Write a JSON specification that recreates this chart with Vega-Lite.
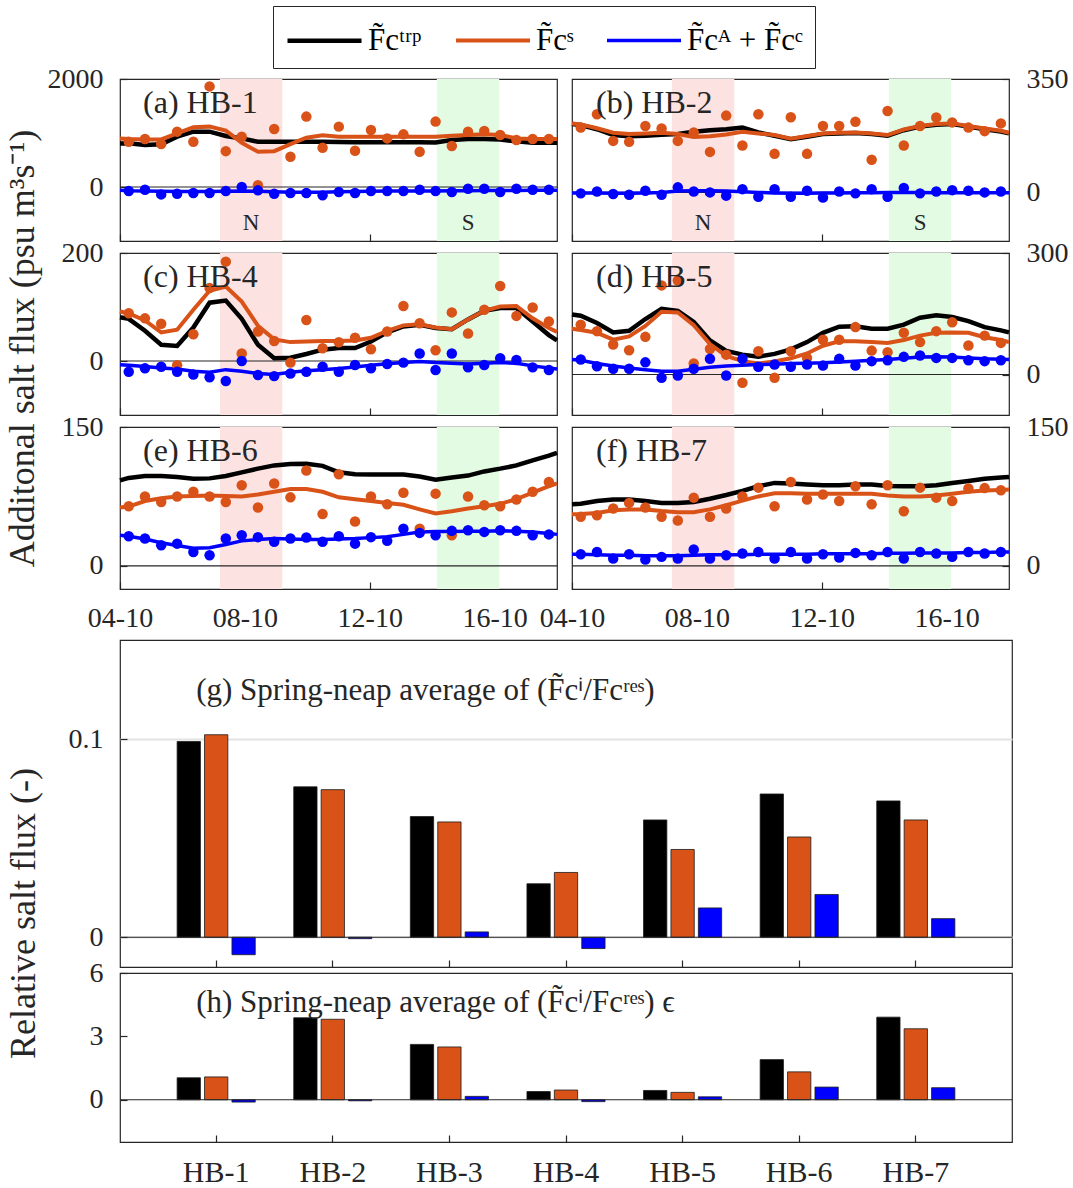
{
"$schema": "https://vega.github.io/schema/vega-lite/v6.json",
"background": "white",
"padding": {"left": 5, "top": 5, "right": 4, "bottom": 2},
"config": {
 "font": "Liberation Serif",
 "view": {"stroke": "#262626", "strokeWidth": 1.2},
 "axis": {"labelFont": "Liberation Serif", "labelFontSize": 28, "labelColor": "#262626", "tickColor": "#262626", "tickSize": -7, "tickWidth": 1.2, "domain": false, "grid": false},
 "axisX": {"labelPadding": 22, "labelFlush": false},
 "axisY": {"labelPadding": 24},
 "title": {"font": "Liberation Serif", "fontSize": 36, "fontWeight": "normal", "color": "#262626"},
 "text": {"font": "Liberation Serif", "color": "#262626"},
 "concat": {"spacing": 0}
},
"datasets": {
 "dots": [
  {"p":"a","t":0.28,"S":838,"AC":-75},{"p":"a","t":0.80,"S":888,"AC":-50},{"p":"a","t":1.32,"S":795,"AC":-137},{"p":"a","t":1.83,"S":1025,"AC":-124},{"p":"a","t":2.35,"S":838,"AC":-112},{"p":"a","t":2.87,"S":1863,"AC":-112},{"p":"a","t":3.39,"S":664,"AC":-75},{"p":"a","t":3.90,"S":931,"AC":0},{"p":"a","t":4.42,"S":31,"AC":-62},{"p":"a","t":4.94,"S":1074,"AC":-124},{"p":"a","t":5.46,"S":559,"AC":-112},{"p":"a","t":5.97,"S":1304,"AC":-112},{"p":"a","t":6.49,"S":727,"AC":-155},{"p":"a","t":7.01,"S":1118,"AC":-93},{"p":"a","t":7.53,"S":671,"AC":-112},{"p":"a","t":8.04,"S":1056,"AC":-75},{"p":"a","t":8.56,"S":900,"AC":-75},{"p":"a","t":9.08,"S":975,"AC":-75},{"p":"a","t":9.60,"S":652,"AC":-50},{"p":"a","t":10.11,"S":1211,"AC":-75},{"p":"a","t":10.63,"S":758,"AC":-93},{"p":"a","t":11.15,"S":1025,"AC":-31},{"p":"a","t":11.67,"S":1037,"AC":-31},{"p":"a","t":12.18,"S":963,"AC":-93},{"p":"a","t":12.70,"S":869,"AC":-31},{"p":"a","t":13.22,"S":888,"AC":-50},{"p":"a","t":13.74,"S":888,"AC":-50},
  {"p":"b","t":0.28,"S":200,"AC":-3},{"p":"b","t":0.80,"S":241,"AC":3},{"p":"b","t":1.32,"S":159,"AC":-5},{"p":"b","t":1.83,"S":156,"AC":-7},{"p":"b","t":2.35,"S":205,"AC":5},{"p":"b","t":2.87,"S":197,"AC":-7},{"p":"b","t":3.39,"S":159,"AC":15.6},{"p":"b","t":3.90,"S":185,"AC":3},{"p":"b","t":4.42,"S":125,"AC":0},{"p":"b","t":4.94,"S":237,"AC":-10},{"p":"b","t":5.46,"S":145,"AC":10},{"p":"b","t":5.97,"S":241,"AC":-13.5},{"p":"b","t":6.49,"S":119,"AC":10},{"p":"b","t":7.01,"S":232,"AC":-13.5},{"p":"b","t":7.53,"S":119,"AC":5},{"p":"b","t":8.04,"S":205,"AC":-15.6},{"p":"b","t":8.56,"S":205,"AC":3},{"p":"b","t":9.08,"S":218,"AC":-3},{"p":"b","t":9.60,"S":101,"AC":10},{"p":"b","t":10.11,"S":251,"AC":-13.5},{"p":"b","t":10.63,"S":145,"AC":13.5},{"p":"b","t":11.15,"S":205,"AC":-3},{"p":"b","t":11.67,"S":231,"AC":3},{"p":"b","t":12.18,"S":216,"AC":7},{"p":"b","t":12.70,"S":200,"AC":5},{"p":"b","t":13.22,"S":189,"AC":0},{"p":"b","t":13.74,"S":213,"AC":3},
  {"p":"c","t":0.28,"S":88.5,"AC":-20},{"p":"c","t":0.80,"S":79,"AC":-13.6},{"p":"c","t":1.32,"S":69,"AC":-10.5},{"p":"c","t":1.83,"S":-8,"AC":-20},{"p":"c","t":2.35,"S":49.5,"AC":-25},{"p":"c","t":2.87,"S":135,"AC":-30},{"p":"c","t":3.39,"S":184,"AC":-37},{"p":"c","t":3.90,"S":14,"AC":0},{"p":"c","t":4.42,"S":54.5,"AC":-26},{"p":"c","t":4.94,"S":37,"AC":-28},{"p":"c","t":5.46,"S":-3,"AC":-23},{"p":"c","t":5.97,"S":76,"AC":-20},{"p":"c","t":6.49,"S":23.5,"AC":-10.5},{"p":"c","t":7.01,"S":34.7,"AC":-20},{"p":"c","t":7.53,"S":43,"AC":-7.4},{"p":"c","t":8.04,"S":21.7,"AC":-13.6},{"p":"c","t":8.56,"S":54.5,"AC":-5.6},{"p":"c","t":9.08,"S":102,"AC":-3},{"p":"c","t":9.60,"S":70,"AC":14},{"p":"c","t":10.11,"S":20,"AC":-16.7},{"p":"c","t":10.63,"S":90,"AC":14},{"p":"c","t":11.15,"S":51,"AC":-11.8},{"p":"c","t":11.67,"S":95,"AC":-7.4},{"p":"c","t":12.18,"S":139,"AC":5},{"p":"c","t":12.70,"S":83.5,"AC":2},{"p":"c","t":13.22,"S":99,"AC":-11.8},{"p":"c","t":13.74,"S":73,"AC":-16.7},
  {"p":"d","t":0.28,"S":123,"AC":37},{"p":"d","t":0.80,"S":107,"AC":20.5},{"p":"d","t":1.32,"S":74,"AC":14},{"p":"d","t":1.83,"S":60,"AC":14},{"p":"d","t":2.35,"S":93,"AC":30},{"p":"d","t":2.87,"S":220,"AC":-8},{"p":"d","t":3.39,"S":232,"AC":-2.5},{"p":"d","t":3.90,"S":27,"AC":14},{"p":"d","t":4.42,"S":63,"AC":38.6},{"p":"d","t":4.94,"S":49,"AC":-2.5},{"p":"d","t":5.46,"S":-20.5,"AC":38.6},{"p":"d","t":5.97,"S":57.5,"AC":19},{"p":"d","t":6.49,"S":-8,"AC":24.7},{"p":"d","t":7.01,"S":57.5,"AC":19},{"p":"d","t":7.53,"S":41,"AC":24.7},{"p":"d","t":8.04,"S":86,"AC":22},{"p":"d","t":8.56,"S":86,"AC":38.6},{"p":"d","t":9.08,"S":117,"AC":22},{"p":"d","t":9.60,"S":59,"AC":33},{"p":"d","t":10.11,"S":55,"AC":35},{"p":"d","t":10.63,"S":103,"AC":43.6},{"p":"d","t":11.15,"S":80,"AC":47},{"p":"d","t":11.67,"S":107,"AC":41},{"p":"d","t":12.18,"S":129,"AC":41},{"p":"d","t":12.70,"S":71.5,"AC":35},{"p":"d","t":13.22,"S":96,"AC":33},{"p":"d","t":13.74,"S":78,"AC":35},
  {"p":"e","t":0.28,"S":64.4,"AC":32},{"p":"e","t":0.80,"S":75,"AC":29.5},{"p":"e","t":1.32,"S":69,"AC":22.3},{"p":"e","t":1.83,"S":75,"AC":24},{"p":"e","t":2.35,"S":80,"AC":15},{"p":"e","t":2.87,"S":75,"AC":11.5},{"p":"e","t":3.39,"S":69,"AC":29.5},{"p":"e","t":3.90,"S":87,"AC":33},{"p":"e","t":4.42,"S":63,"AC":31},{"p":"e","t":4.94,"S":89,"AC":26},{"p":"e","t":5.46,"S":74,"AC":29.5},{"p":"e","t":5.97,"S":103,"AC":30.6},{"p":"e","t":6.49,"S":56,"AC":26},{"p":"e","t":7.01,"S":99,"AC":32},{"p":"e","t":7.53,"S":48,"AC":24},{"p":"e","t":8.04,"S":75,"AC":31},{"p":"e","t":8.56,"S":66.5,"AC":27},{"p":"e","t":9.08,"S":79,"AC":40},{"p":"e","t":9.60,"S":40,"AC":35.6},{"p":"e","t":10.11,"S":78,"AC":33},{"p":"e","t":10.63,"S":33,"AC":37.8},{"p":"e","t":11.15,"S":75,"AC":38.5},{"p":"e","t":11.67,"S":65.5,"AC":36.7},{"p":"e","t":12.18,"S":64.4,"AC":38.5},{"p":"e","t":12.70,"S":71.6,"AC":37.8},{"p":"e","t":13.22,"S":80,"AC":33},{"p":"e","t":13.74,"S":90.6,"AC":34},
  {"p":"f","t":0.28,"S":53,"AC":12.6},{"p":"f","t":0.80,"S":54.7,"AC":15},{"p":"f","t":1.32,"S":62,"AC":8},{"p":"f","t":1.83,"S":68,"AC":12.6},{"p":"f","t":2.35,"S":63,"AC":6.8},{"p":"f","t":2.87,"S":53,"AC":9.7},{"p":"f","t":3.39,"S":49,"AC":8},{"p":"f","t":3.90,"S":73.7,"AC":17.6},{"p":"f","t":4.42,"S":53,"AC":8},{"p":"f","t":4.94,"S":62,"AC":11.5},{"p":"f","t":5.46,"S":75,"AC":13.3},{"p":"f","t":5.97,"S":84.5,"AC":15},{"p":"f","t":6.49,"S":64.4,"AC":8},{"p":"f","t":7.01,"S":90.6,"AC":15},{"p":"f","t":7.53,"S":71.6,"AC":8},{"p":"f","t":8.04,"S":77,"AC":12.6},{"p":"f","t":8.56,"S":70,"AC":9},{"p":"f","t":9.08,"S":86,"AC":14},{"p":"f","t":9.60,"S":66.5,"AC":11.5},{"p":"f","t":10.11,"S":87,"AC":15},{"p":"f","t":10.63,"S":59,"AC":8},{"p":"f","t":11.15,"S":84.5,"AC":15},{"p":"f","t":11.67,"S":73.7,"AC":13.3},{"p":"f","t":12.18,"S":70,"AC":9.7},{"p":"f","t":12.70,"S":83.5,"AC":15},{"p":"f","t":13.22,"S":84,"AC":13.3},{"p":"f","t":13.74,"S":81.7,"AC":15}
 ],
 "lines": [
  {"p":"a","t":0,"trp":807,"S":900,"AC":-60},{"p":"a","t":0.28,"trp":810,"S":890,"AC":-70},{"p":"a","t":0.80,"trp":776,"S":880,"AC":-75},{"p":"a","t":1.32,"trp":790,"S":880,"AC":-80},{"p":"a","t":1.83,"trp":931,"S":994,"AC":-85},{"p":"a","t":2.35,"trp":1025,"S":1105,"AC":-85},{"p":"a","t":2.87,"trp":1025,"S":1118,"AC":-85},{"p":"a","t":3.39,"trp":944,"S":1043,"AC":-80},{"p":"a","t":3.90,"trp":900,"S":820,"AC":-75},{"p":"a","t":4.42,"trp":838,"S":652,"AC":-80},{"p":"a","t":4.94,"trp":838,"S":664,"AC":-90},{"p":"a","t":5.46,"trp":838,"S":795,"AC":-95},{"p":"a","t":5.97,"trp":838,"S":913,"AC":-95},{"p":"a","t":6.49,"trp":840,"S":956,"AC":-95},{"p":"a","t":7.01,"trp":835,"S":931,"AC":-90},{"p":"a","t":7.53,"trp":830,"S":931,"AC":-85},{"p":"a","t":8.04,"trp":830,"S":931,"AC":-80},{"p":"a","t":8.56,"trp":830,"S":931,"AC":-75},{"p":"a","t":9.08,"trp":830,"S":931,"AC":-75},{"p":"a","t":9.60,"trp":830,"S":931,"AC":-75},{"p":"a","t":10.11,"trp":825,"S":931,"AC":-75},{"p":"a","t":10.63,"trp":869,"S":950,"AC":-70},{"p":"a","t":11.15,"trp":888,"S":963,"AC":-70},{"p":"a","t":11.67,"trp":888,"S":975,"AC":-65},{"p":"a","t":12.18,"trp":880,"S":963,"AC":-65},{"p":"a","t":12.70,"trp":845,"S":900,"AC":-65},{"p":"a","t":13.22,"trp":820,"S":888,"AC":-60},{"p":"a","t":13.74,"trp":820,"S":888,"AC":-60},{"p":"a","t":14,"trp":820,"S":888,"AC":-60},
  {"p":"b","t":0,"trp":211,"S":213,"AC":-2},{"p":"b","t":0.28,"trp":208,"S":210,"AC":-2},{"p":"b","t":0.80,"trp":195,"S":198,"AC":-2},{"p":"b","t":1.32,"trp":177,"S":184,"AC":-3},{"p":"b","t":1.83,"trp":173,"S":180,"AC":-3},{"p":"b","t":2.35,"trp":175,"S":182,"AC":-2},{"p":"b","t":2.87,"trp":178,"S":184,"AC":0},{"p":"b","t":3.39,"trp":180,"S":180,"AC":4},{"p":"b","t":3.90,"trp":187,"S":171,"AC":5},{"p":"b","t":4.42,"trp":192,"S":173,"AC":5},{"p":"b","t":4.94,"trp":195,"S":179,"AC":4},{"p":"b","t":5.46,"trp":200,"S":187,"AC":2},{"p":"b","t":5.97,"trp":185,"S":182,"AC":0},{"p":"b","t":6.49,"trp":175,"S":177,"AC":-2},{"p":"b","t":7.01,"trp":164,"S":166,"AC":-3},{"p":"b","t":7.53,"trp":172,"S":174,"AC":-3},{"p":"b","t":8.04,"trp":180,"S":182,"AC":-2},{"p":"b","t":8.56,"trp":182,"S":184,"AC":-2},{"p":"b","t":9.08,"trp":183,"S":185,"AC":-1},{"p":"b","t":9.60,"trp":180,"S":182,"AC":-1},{"p":"b","t":10.11,"trp":175,"S":177,"AC":0},{"p":"b","t":10.63,"trp":192,"S":194,"AC":0},{"p":"b","t":11.15,"trp":203,"S":205,"AC":0},{"p":"b","t":11.67,"trp":209,"S":211,"AC":-1},{"p":"b","t":12.18,"trp":211,"S":213,"AC":-1},{"p":"b","t":12.70,"trp":203,"S":205,"AC":-1},{"p":"b","t":13.22,"trp":195,"S":197,"AC":-1},{"p":"b","t":13.74,"trp":188,"S":190,"AC":-1},{"p":"b","t":14,"trp":182,"S":184,"AC":-1},
  {"p":"c","t":0,"trp":81,"S":91.6,"AC":-7},{"p":"c","t":0.28,"trp":78,"S":88,"AC":-8},{"p":"c","t":0.80,"trp":56,"S":75,"AC":-10},{"p":"c","t":1.32,"trp":30,"S":53,"AC":-13},{"p":"c","t":1.83,"trp":28,"S":58,"AC":-15},{"p":"c","t":2.35,"trp":62,"S":95,"AC":-19},{"p":"c","t":2.87,"trp":108,"S":130,"AC":-21},{"p":"c","t":3.39,"trp":112,"S":138,"AC":-16},{"p":"c","t":3.90,"trp":78,"S":110,"AC":-19},{"p":"c","t":4.42,"trp":30,"S":65,"AC":-23},{"p":"c","t":4.94,"trp":5,"S":40,"AC":-25},{"p":"c","t":5.46,"trp":6,"S":35,"AC":-21},{"p":"c","t":5.97,"trp":13,"S":36,"AC":-18},{"p":"c","t":6.49,"trp":21,"S":37,"AC":-16},{"p":"c","t":7.01,"trp":24,"S":37,"AC":-14},{"p":"c","t":7.53,"trp":24,"S":38,"AC":-11},{"p":"c","t":8.04,"trp":36,"S":43,"AC":-8},{"p":"c","t":8.56,"trp":53,"S":56,"AC":-5},{"p":"c","t":9.08,"trp":64,"S":66,"AC":-3},{"p":"c","t":9.60,"trp":67,"S":68,"AC":-1},{"p":"c","t":10.11,"trp":61,"S":62,"AC":-3},{"p":"c","t":10.63,"trp":59,"S":59,"AC":-4},{"p":"c","t":11.15,"trp":77,"S":77,"AC":-5.5},{"p":"c","t":11.67,"trp":93,"S":93,"AC":-4},{"p":"c","t":12.18,"trp":98,"S":101,"AC":-3},{"p":"c","t":12.70,"trp":98,"S":102,"AC":-4},{"p":"c","t":13.22,"trp":73,"S":79,"AC":-9},{"p":"c","t":13.74,"trp":48,"S":61,"AC":-13},{"p":"c","t":14,"trp":38,"S":54,"AC":-15},
  {"p":"d","t":0,"trp":148,"S":113,"AC":37},{"p":"d","t":0.28,"trp":145,"S":110,"AC":35},{"p":"d","t":0.80,"trp":127,"S":103,"AC":27},{"p":"d","t":1.32,"trp":104,"S":86,"AC":21},{"p":"d","t":1.83,"trp":108,"S":94,"AC":16},{"p":"d","t":2.35,"trp":137,"S":120,"AC":12},{"p":"d","t":2.87,"trp":162,"S":155,"AC":8},{"p":"d","t":3.39,"trp":157,"S":153,"AC":8},{"p":"d","t":3.90,"trp":130,"S":122,"AC":13},{"p":"d","t":4.42,"trp":84,"S":75,"AC":18},{"p":"d","t":4.94,"trp":58,"S":46,"AC":21},{"p":"d","t":5.46,"trp":49,"S":33,"AC":23},{"p":"d","t":5.97,"trp":44,"S":27,"AC":24.5},{"p":"d","t":6.49,"trp":51,"S":32,"AC":25.5},{"p":"d","t":7.01,"trp":62,"S":40,"AC":27},{"p":"d","t":7.53,"trp":80,"S":52,"AC":28},{"p":"d","t":8.04,"trp":103,"S":71,"AC":29},{"p":"d","t":8.56,"trp":118,"S":82,"AC":31},{"p":"d","t":9.08,"trp":119,"S":82,"AC":33},{"p":"d","t":9.60,"trp":113,"S":80,"AC":35},{"p":"d","t":10.11,"trp":113,"S":78,"AC":37},{"p":"d","t":10.63,"trp":123,"S":85,"AC":40},{"p":"d","t":11.15,"trp":140,"S":96,"AC":43},{"p":"d","t":11.67,"trp":146,"S":103,"AC":44},{"p":"d","t":12.18,"trp":142,"S":104,"AC":43},{"p":"d","t":12.70,"trp":132,"S":103,"AC":41},{"p":"d","t":13.22,"trp":117,"S":92,"AC":38.6},{"p":"d","t":13.74,"trp":109,"S":85,"AC":37.5},{"p":"d","t":14,"trp":104,"S":80,"AC":37},
  {"p":"e","t":0,"trp":92.4,"S":63,"AC":33},{"p":"e","t":0.28,"trp":95,"S":64,"AC":32},{"p":"e","t":0.80,"trp":97,"S":70,"AC":29},{"p":"e","t":1.32,"trp":97,"S":73,"AC":25},{"p":"e","t":1.83,"trp":96,"S":75,"AC":22},{"p":"e","t":2.35,"trp":94,"S":75.5,"AC":19},{"p":"e","t":2.87,"trp":94.5,"S":76,"AC":19.5},{"p":"e","t":3.39,"trp":97,"S":75.5,"AC":23},{"p":"e","t":3.90,"trp":101,"S":75,"AC":27},{"p":"e","t":4.42,"trp":105,"S":77,"AC":28.5},{"p":"e","t":4.94,"trp":108.5,"S":80,"AC":29.5},{"p":"e","t":5.46,"trp":110,"S":83,"AC":29},{"p":"e","t":5.97,"trp":110.4,"S":83,"AC":28.5},{"p":"e","t":6.49,"trp":108,"S":80,"AC":28.5},{"p":"e","t":7.01,"trp":101,"S":74,"AC":29},{"p":"e","t":7.53,"trp":99,"S":72,"AC":29.5},{"p":"e","t":8.04,"trp":98.6,"S":70,"AC":30.5},{"p":"e","t":8.56,"trp":98.6,"S":68,"AC":31.5},{"p":"e","t":9.08,"trp":98.6,"S":66,"AC":34},{"p":"e","t":9.60,"trp":96.5,"S":61,"AC":36.5},{"p":"e","t":10.11,"trp":93,"S":56.5,"AC":37},{"p":"e","t":10.63,"trp":95.5,"S":59,"AC":37},{"p":"e","t":11.15,"trp":97.5,"S":62,"AC":37.5},{"p":"e","t":11.67,"trp":102,"S":64.5,"AC":37.5},{"p":"e","t":12.18,"trp":105,"S":67,"AC":37.8},{"p":"e","t":12.70,"trp":108.5,"S":72,"AC":37.5},{"p":"e","t":13.22,"trp":114,"S":79,"AC":36.5},{"p":"e","t":13.74,"trp":119,"S":86,"AC":35},{"p":"e","t":14,"trp":122,"S":89,"AC":34},
  {"p":"f","t":0,"trp":66.5,"S":55.8,"AC":12.6},{"p":"f","t":0.28,"trp":67,"S":56,"AC":12.6},{"p":"f","t":0.80,"trp":70,"S":57,"AC":12},{"p":"f","t":1.32,"trp":71.6,"S":60,"AC":11.5},{"p":"f","t":1.83,"trp":71.6,"S":61,"AC":11.5},{"p":"f","t":2.35,"trp":70,"S":61,"AC":11},{"p":"f","t":2.87,"trp":68,"S":59.3,"AC":11},{"p":"f","t":3.39,"trp":68,"S":58,"AC":11},{"p":"f","t":3.90,"trp":69,"S":58,"AC":11.5},{"p":"f","t":4.42,"trp":72.5,"S":61,"AC":12},{"p":"f","t":4.94,"trp":76.5,"S":65.5,"AC":12},{"p":"f","t":5.46,"trp":81,"S":70.5,"AC":12},{"p":"f","t":5.97,"trp":86,"S":75,"AC":12.5},{"p":"f","t":6.49,"trp":89.6,"S":78.5,"AC":12.5},{"p":"f","t":7.01,"trp":89,"S":78.5,"AC":12.5},{"p":"f","t":7.53,"trp":88,"S":78,"AC":12.5},{"p":"f","t":8.04,"trp":87,"S":78,"AC":13},{"p":"f","t":8.56,"trp":87,"S":78,"AC":13},{"p":"f","t":9.08,"trp":87.8,"S":78,"AC":13},{"p":"f","t":9.60,"trp":87.8,"S":78,"AC":13},{"p":"f","t":10.11,"trp":86.3,"S":76,"AC":13.5},{"p":"f","t":10.63,"trp":86,"S":75,"AC":13.5},{"p":"f","t":11.15,"trp":86,"S":75,"AC":14},{"p":"f","t":11.67,"trp":87,"S":76,"AC":14},{"p":"f","t":12.18,"trp":89.6,"S":78,"AC":14},{"p":"f","t":12.70,"trp":91.7,"S":80,"AC":14.5},{"p":"f","t":13.22,"trp":94,"S":81.5,"AC":14.5},{"p":"f","t":13.74,"trp":95.5,"S":82,"AC":15},{"p":"f","t":14,"trp":96,"S":82.4,"AC":15}
 ],
 "bars": [
  {"site":"HB-1","comp":"trp","g":0.0988,"h":1.04},{"site":"HB-1","comp":"S","g":0.1022,"h":1.08},{"site":"HB-1","comp":"AC","g":-0.0088,"h":-0.11},
  {"site":"HB-2","comp":"trp","g":0.0759,"h":3.88},{"site":"HB-2","comp":"S","g":0.0745,"h":3.81},{"site":"HB-2","comp":"AC","g":-0.0007,"h":-0.05},
  {"site":"HB-3","comp":"trp","g":0.0609,"h":2.62},{"site":"HB-3","comp":"S","g":0.0582,"h":2.50},{"site":"HB-3","comp":"AC","g":0.0027,"h":0.16},
  {"site":"HB-4","comp":"trp","g":0.027,"h":0.39},{"site":"HB-4","comp":"S","g":0.0327,"h":0.46},{"site":"HB-4","comp":"AC","g":-0.0057,"h":-0.09},
  {"site":"HB-5","comp":"trp","g":0.0592,"h":0.44},{"site":"HB-5","comp":"S","g":0.0443,"h":0.35},{"site":"HB-5","comp":"AC","g":0.0148,"h":0.14},
  {"site":"HB-6","comp":"trp","g":0.0723,"h":1.90},{"site":"HB-6","comp":"S","g":0.0506,"h":1.32},{"site":"HB-6","comp":"AC","g":0.0216,"h":0.60},
  {"site":"HB-7","comp":"trp","g":0.0688,"h":3.91},{"site":"HB-7","comp":"S","g":0.0592,"h":3.36},{"site":"HB-7","comp":"AC","g":0.0094,"h":0.57}
 ]
},
"spacing": 6,
"vconcat": [
 {
  "title": {"text": "Additonal salt flux (psu m³s⁻¹)", "orient": "left", "anchor": "middle", "offset": 4},
  "spacing": -5,
  "vconcat": [
   {"spacing": -5, "hconcat": [
    {"width": 437, "height": 162, "layer": [
     {"data": {"values": [{}]}, "mark": {"type": "rect", "color": "#fde2e2"}, "encoding": {"x": {"datum": 3.2, "type": "quantitative", "title": null, "scale": {"domain": [0, 14], "nice": false, "zero": false}, "axis": {"values": [0, 4, 8, 12], "labels": false}}, "x2": {"datum": 5.2}}},
     {"data": {"values": [{}]}, "mark": {"type": "rect", "color": "#e2fbe2"}, "encoding": {"x": {"datum": 10.15, "type": "quantitative", "title": null}, "x2": {"datum": 12.15}}},
     {"data": {"values": [{}]}, "mark": {"type": "rule", "color": "#262626", "strokeWidth": 1.2}, "encoding": {"y": {"datum": 0, "type": "quantitative", "title": null, "scale": {"domain": [-1000, 2000], "nice": false, "zero": false}, "axis": {"values": [0, 2000], "format": "d", "orient": "left", "minExtent": 72}}}},
     {"data": {"name": "lines"}, "transform": [{"filter": "datum.p === 'a'"}, {"fold": ["trp", "S", "AC"], "as": ["series", "v"]}], "mark": {"type": "line"}, "encoding": {"x": {"field": "t", "type": "quantitative", "title": null}, "y": {"field": "v", "type": "quantitative", "title": null}, "color": {"field": "series", "type": "nominal", "scale": {"domain": ["trp", "S", "AC"], "range": ["#000000", "#D95319", "#0000FF"]}, "legend": {"orient": "none", "legendX": 153, "legendY": -73, "direction": "horizontal", "title": null, "symbolType": "M-1,0H2.7", "symbolSize": 1600, "symbolStrokeWidth": 5, "labelFontSize": 31, "labelFont": "Liberation Serif", "labelColor": "#000000", "labelOffset": 38, "strokeColor": "#262626", "padding": 12, "columnPadding": 26, "labelExpr": "datum.label == 'trp' ? 'F̃cᵗʳᵖ' : datum.label == 'S' ? 'F̃cˢ' : 'F̃cᴬ + F̃cᶜ'"}}, "strokeWidth": {"field": "series", "type": "nominal", "scale": {"domain": ["trp", "S", "AC"], "range": [4.5, 3.5, 3.5]}, "legend": null}}},
     {"data": {"name": "dots"}, "transform": [{"filter": "datum.p === 'a'"}, {"fold": ["S", "AC"], "as": ["series", "v"]}], "mark": {"type": "circle", "size": 110, "opacity": 1}, "encoding": {"x": {"field": "t", "type": "quantitative", "title": null}, "y": {"field": "v", "type": "quantitative", "title": null}, "color": {"field": "series", "type": "nominal", "legend": null}}},
     {"data": {"values": [{}]}, "mark": {"type": "text", "text": "(a) HB-1", "align": "left", "baseline": "middle", "fontSize": 32}, "encoding": {"x": {"datum": 0.74}, "y": {"datum": 1556}}},
     {"data": {"values": [{}]}, "mark": {"type": "text", "text": "N", "align": "center", "baseline": "middle", "fontSize": 23}, "encoding": {"x": {"datum": 4.2}, "y": {"datum": -667}}},
     {"data": {"values": [{}]}, "mark": {"type": "text", "text": "S", "align": "center", "baseline": "middle", "fontSize": 23}, "encoding": {"x": {"datum": 11.15}, "y": {"datum": -667}}}
    ]},
    {"width": 437, "height": 162, "layer": [
     {"data": {"values": [{}]}, "mark": {"type": "rect", "color": "#fde2e2"}, "encoding": {"x": {"datum": 3.2, "type": "quantitative", "title": null, "scale": {"domain": [0, 14], "nice": false, "zero": false}, "axis": {"values": [0, 4, 8, 12], "labels": false}}, "x2": {"datum": 5.2}}},
     {"data": {"values": [{}]}, "mark": {"type": "rect", "color": "#e2fbe2"}, "encoding": {"x": {"datum": 10.15, "type": "quantitative", "title": null}, "x2": {"datum": 12.15}}},
     {"data": {"values": [{}]}, "mark": {"type": "rule", "color": "#262626", "strokeWidth": 1.2}, "encoding": {"y": {"datum": 0, "type": "quantitative", "title": null, "scale": {"domain": [-150, 350], "nice": false, "zero": false}, "axis": {"values": [0, 350], "orient": "right"}}}},
     {"data": {"name": "lines"}, "transform": [{"filter": "datum.p === 'b'"}, {"fold": ["trp", "S", "AC"], "as": ["series", "v"]}], "mark": {"type": "line"}, "encoding": {"x": {"field": "t", "type": "quantitative", "title": null}, "y": {"field": "v", "type": "quantitative", "title": null}, "color": {"field": "series", "type": "nominal", "legend": null}, "strokeWidth": {"field": "series", "type": "nominal", "legend": null}}},
     {"data": {"name": "dots"}, "transform": [{"filter": "datum.p === 'b'"}, {"fold": ["S", "AC"], "as": ["series", "v"]}], "mark": {"type": "circle", "size": 110, "opacity": 1}, "encoding": {"x": {"field": "t", "type": "quantitative", "title": null}, "y": {"field": "v", "type": "quantitative", "title": null}, "color": {"field": "series", "type": "nominal", "legend": null}}},
     {"data": {"values": [{}]}, "mark": {"type": "text", "text": "(b) HB-2", "align": "left", "baseline": "middle", "fontSize": 32}, "encoding": {"x": {"datum": 0.77}, "y": {"datum": 276}}},
     {"data": {"values": [{}]}, "mark": {"type": "text", "text": "N", "align": "center", "baseline": "middle", "fontSize": 23}, "encoding": {"x": {"datum": 4.2}, "y": {"datum": -94}}},
     {"data": {"values": [{}]}, "mark": {"type": "text", "text": "S", "align": "center", "baseline": "middle", "fontSize": 23}, "encoding": {"x": {"datum": 11.15}, "y": {"datum": -94}}}
    ]}
   ]},
   {"spacing": -5, "hconcat": [
    {"width": 437, "height": 162, "layer": [
     {"data": {"values": [{}]}, "mark": {"type": "rect", "color": "#fde2e2"}, "encoding": {"x": {"datum": 3.2, "type": "quantitative", "title": null, "scale": {"domain": [0, 14], "nice": false, "zero": false}, "axis": {"values": [0, 4, 8, 12], "labels": false}}, "x2": {"datum": 5.2}}},
     {"data": {"values": [{}]}, "mark": {"type": "rect", "color": "#e2fbe2"}, "encoding": {"x": {"datum": 10.15, "type": "quantitative", "title": null}, "x2": {"datum": 12.15}}},
     {"data": {"values": [{}]}, "mark": {"type": "rule", "color": "#262626", "strokeWidth": 1.2}, "encoding": {"y": {"datum": 0, "type": "quantitative", "title": null, "scale": {"domain": [-100, 200], "nice": false, "zero": false}, "axis": {"values": [0, 200], "orient": "left", "minExtent": 72}}}},
     {"data": {"name": "lines"}, "transform": [{"filter": "datum.p === 'c'"}, {"fold": ["trp", "S", "AC"], "as": ["series", "v"]}], "mark": {"type": "line"}, "encoding": {"x": {"field": "t", "type": "quantitative", "title": null}, "y": {"field": "v", "type": "quantitative", "title": null}, "color": {"field": "series", "type": "nominal", "legend": null}, "strokeWidth": {"field": "series", "type": "nominal", "legend": null}}},
     {"data": {"name": "dots"}, "transform": [{"filter": "datum.p === 'c'"}, {"fold": ["S", "AC"], "as": ["series", "v"]}], "mark": {"type": "circle", "size": 110, "opacity": 1}, "encoding": {"x": {"field": "t", "type": "quantitative", "title": null}, "y": {"field": "v", "type": "quantitative", "title": null}, "color": {"field": "series", "type": "nominal", "legend": null}}},
     {"data": {"values": [{}]}, "mark": {"type": "text", "text": "(c) HB-4", "align": "left", "baseline": "middle", "fontSize": 32}, "encoding": {"x": {"datum": 0.74}, "y": {"datum": 155.6}}}
    ]},
    {"width": 437, "height": 162, "layer": [
     {"data": {"values": [{}]}, "mark": {"type": "rect", "color": "#fde2e2"}, "encoding": {"x": {"datum": 3.2, "type": "quantitative", "title": null, "scale": {"domain": [0, 14], "nice": false, "zero": false}, "axis": {"values": [0, 4, 8, 12], "labels": false}}, "x2": {"datum": 5.2}}},
     {"data": {"values": [{}]}, "mark": {"type": "rect", "color": "#e2fbe2"}, "encoding": {"x": {"datum": 10.15, "type": "quantitative", "title": null}, "x2": {"datum": 12.15}}},
     {"data": {"values": [{}]}, "mark": {"type": "rule", "color": "#262626", "strokeWidth": 1.2}, "encoding": {"y": {"datum": 0, "type": "quantitative", "title": null, "scale": {"domain": [-100, 300], "nice": false, "zero": false}, "axis": {"values": [0, 300], "orient": "right"}}}},
     {"data": {"name": "lines"}, "transform": [{"filter": "datum.p === 'd'"}, {"fold": ["trp", "S", "AC"], "as": ["series", "v"]}], "mark": {"type": "line"}, "encoding": {"x": {"field": "t", "type": "quantitative", "title": null}, "y": {"field": "v", "type": "quantitative", "title": null}, "color": {"field": "series", "type": "nominal", "legend": null}, "strokeWidth": {"field": "series", "type": "nominal", "legend": null}}},
     {"data": {"name": "dots"}, "transform": [{"filter": "datum.p === 'd'"}, {"fold": ["S", "AC"], "as": ["series", "v"]}], "mark": {"type": "circle", "size": 110, "opacity": 1}, "encoding": {"x": {"field": "t", "type": "quantitative", "title": null}, "y": {"field": "v", "type": "quantitative", "title": null}, "color": {"field": "series", "type": "nominal", "legend": null}}},
     {"data": {"values": [{}]}, "mark": {"type": "text", "text": "(d) HB-5", "align": "left", "baseline": "middle", "fontSize": 32}, "encoding": {"x": {"datum": 0.77}, "y": {"datum": 240.7}}}
    ]}
   ]},
   {"spacing": -29, "hconcat": [
    {"width": 437, "height": 162, "layer": [
     {"data": {"values": [{}]}, "mark": {"type": "rect", "color": "#fde2e2"}, "encoding": {"x": {"datum": 3.2, "type": "quantitative", "title": null, "scale": {"domain": [0, 14], "nice": false, "zero": false}, "axis": {"values": [0, 4, 8, 12], "labelExpr": "['04-10','08-10','12-10','16-10'][datum.value/4]"}}, "x2": {"datum": 5.2}}},
     {"data": {"values": [{}]}, "mark": {"type": "rect", "color": "#e2fbe2"}, "encoding": {"x": {"datum": 10.15, "type": "quantitative", "title": null}, "x2": {"datum": 12.15}}},
     {"data": {"values": [{}]}, "mark": {"type": "rule", "color": "#262626", "strokeWidth": 1.2}, "encoding": {"y": {"datum": 0, "type": "quantitative", "title": null, "scale": {"domain": [-25, 150], "nice": false, "zero": false}, "axis": {"values": [0, 150], "orient": "left", "minExtent": 72}}}},
     {"data": {"name": "lines"}, "transform": [{"filter": "datum.p === 'e'"}, {"fold": ["trp", "S", "AC"], "as": ["series", "v"]}], "mark": {"type": "line"}, "encoding": {"x": {"field": "t", "type": "quantitative", "title": null}, "y": {"field": "v", "type": "quantitative", "title": null}, "color": {"field": "series", "type": "nominal", "legend": null}, "strokeWidth": {"field": "series", "type": "nominal", "legend": null}}},
     {"data": {"name": "dots"}, "transform": [{"filter": "datum.p === 'e'"}, {"fold": ["S", "AC"], "as": ["series", "v"]}], "mark": {"type": "circle", "size": 110, "opacity": 1}, "encoding": {"x": {"field": "t", "type": "quantitative", "title": null}, "y": {"field": "v", "type": "quantitative", "title": null}, "color": {"field": "series", "type": "nominal", "legend": null}}},
     {"data": {"values": [{}]}, "mark": {"type": "text", "text": "(e) HB-6", "align": "left", "baseline": "middle", "fontSize": 32}, "encoding": {"x": {"datum": 0.74}, "y": {"datum": 124}}}
    ]},
    {"width": 437, "height": 162, "layer": [
     {"data": {"values": [{}]}, "mark": {"type": "rect", "color": "#fde2e2"}, "encoding": {"x": {"datum": 3.2, "type": "quantitative", "title": null, "scale": {"domain": [0, 14], "nice": false, "zero": false}, "axis": {"values": [0, 4, 8, 12], "labelExpr": "['04-10','08-10','12-10','16-10'][datum.value/4]"}}, "x2": {"datum": 5.2}}},
     {"data": {"values": [{}]}, "mark": {"type": "rect", "color": "#e2fbe2"}, "encoding": {"x": {"datum": 10.15, "type": "quantitative", "title": null}, "x2": {"datum": 12.15}}},
     {"data": {"values": [{}]}, "mark": {"type": "rule", "color": "#262626", "strokeWidth": 1.2}, "encoding": {"y": {"datum": 0, "type": "quantitative", "title": null, "scale": {"domain": [-25, 150], "nice": false, "zero": false}, "axis": {"values": [0, 150], "orient": "right"}}}},
     {"data": {"name": "lines"}, "transform": [{"filter": "datum.p === 'f'"}, {"fold": ["trp", "S", "AC"], "as": ["series", "v"]}], "mark": {"type": "line"}, "encoding": {"x": {"field": "t", "type": "quantitative", "title": null}, "y": {"field": "v", "type": "quantitative", "title": null}, "color": {"field": "series", "type": "nominal", "legend": null}, "strokeWidth": {"field": "series", "type": "nominal", "legend": null}}},
     {"data": {"name": "dots"}, "transform": [{"filter": "datum.p === 'f'"}, {"fold": ["S", "AC"], "as": ["series", "v"]}], "mark": {"type": "circle", "size": 110, "opacity": 1}, "encoding": {"x": {"field": "t", "type": "quantitative", "title": null}, "y": {"field": "v", "type": "quantitative", "title": null}, "color": {"field": "series", "type": "nominal", "legend": null}}},
     {"data": {"values": [{}]}, "mark": {"type": "text", "text": "(f) HB-7", "align": "left", "baseline": "middle", "fontSize": 32}, "encoding": {"x": {"datum": 0.77}, "y": {"datum": 124}}}
    ]}
   ]}
  ]
 },
 {
  "title": {"text": "Relative salt flux (-)", "orient": "left", "anchor": "middle", "offset": 4},
  "spacing": -11,
  "vconcat": [
   {"width": 892, "height": 327, "layer": [
    {"data": {"name": "bars"}, "mark": {"type": "bar", "stroke": "#1a1a1a", "strokeWidth": 0.8}, "encoding": {"x": {"field": "site", "type": "nominal", "title": null, "scale": {"paddingInner": 0.33, "paddingOuter": 0.49}, "axis": {"labels": false}}, "xOffset": {"field": "comp", "type": "nominal", "scale": {"domain": ["trp", "S", "AC"], "paddingInner": 0.15}}, "y": {"field": "g", "type": "quantitative", "title": null, "scale": {"domain": [-0.015, 0.15], "nice": false, "zero": false}, "axis": {"values": [0, 0.1], "format": "~g", "grid": true, "gridColor": "#e3e3e3", "gridWidth": 2, "minExtent": 72}}, "color": {"field": "comp", "type": "nominal", "legend": null}}},
    {"data": {"values": [{}]}, "mark": {"type": "rule", "color": "#262626", "strokeWidth": 1.2}, "encoding": {"y": {"datum": 0, "type": "quantitative"}}},
    {"data": {"values": [{}]}, "mark": {"type": "text", "text": "(g) Spring-neap average of (F̃cⁱ/Fcʳᵉˢ)", "align": "left", "baseline": "middle", "fontSize": 31, "dx": -20}, "encoding": {"x": {"datum": "HB-1", "type": "nominal"}, "y": {"datum": 0.1243, "type": "quantitative"}}}
   ]},
   {"width": 892, "height": 169, "layer": [
    {"data": {"name": "bars"}, "mark": {"type": "bar", "stroke": "#1a1a1a", "strokeWidth": 0.8}, "encoding": {"x": {"field": "site", "type": "nominal", "title": null, "scale": {"paddingInner": 0.33, "paddingOuter": 0.49}, "axis": {"labelAngle": 0, "labelFontSize": 30}}, "xOffset": {"field": "comp", "type": "nominal", "scale": {"domain": ["trp", "S", "AC"], "paddingInner": 0.15}}, "y": {"field": "h", "type": "quantitative", "title": null, "scale": {"domain": [-2, 6], "nice": false, "zero": false}, "axis": {"values": [0, 3, 6], "minExtent": 72}}, "color": {"field": "comp", "type": "nominal", "legend": null}}},
    {"data": {"values": [{}]}, "mark": {"type": "rule", "color": "#262626", "strokeWidth": 1.2}, "encoding": {"y": {"datum": 0, "type": "quantitative"}}},
    {"data": {"values": [{}]}, "mark": {"type": "text", "text": "(h) Spring-neap average of (F̃cⁱ/Fcʳᵉˢ) ϵ", "align": "left", "baseline": "middle", "fontSize": 31, "dx": -20}, "encoding": {"x": {"datum": "HB-1", "type": "nominal"}, "y": {"datum": 4.58, "type": "quantitative"}}}
   ]}
  ]
 }
]
}
